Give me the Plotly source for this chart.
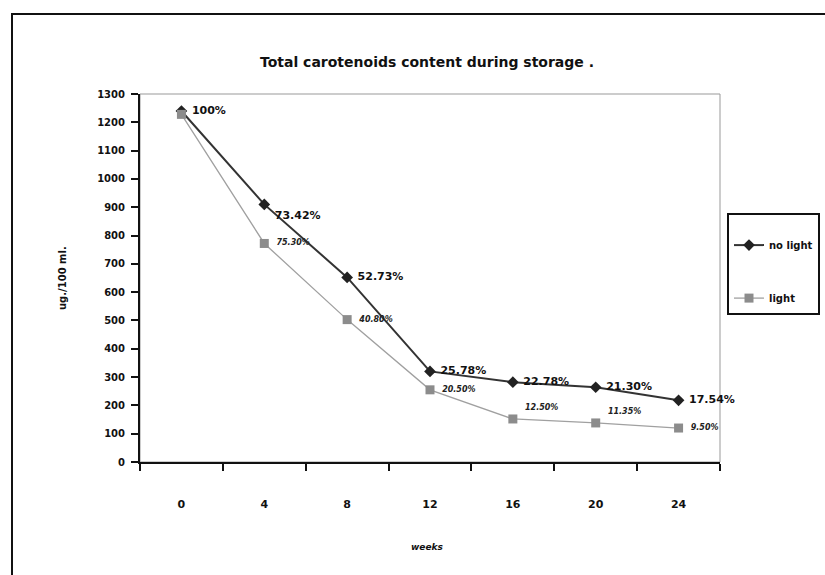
import plotly.graph_objects as go

weeks = ["0", "4", "8", "12", "16", "20", "24"]
no_light = [1240, 910, 652, 320, 282, 264, 218]
light = [1228, 772, 503, 255, 152, 138, 120]
no_light_labels = ["100%", "73.42%", "52.73%", "25.78%", "22.78%", "21.30%", "17.54%"]
light_labels = ["", "75.30%", "40.80%", "20.50%", "12.50%", "11.35%", "9.50%"]
y_ticks = list(range(0, 1301, 100))

W, H = 825, 575
L, R, T, B = 140, 720, 94, 462

def px(x):
    return (x - L) / (R - L)

def py(y):
    return (B - y) / (B - T)

fig = go.Figure()

fig.add_trace(go.Scatter(
    x=weeks, y=no_light, name="no light", legendgroup="a",
    mode="lines+markers+text",
    text=[" " + t for t in no_light_labels],
    textposition=["middle right", "bottom right", "middle right", "middle right",
                  "middle right", "middle right", "middle right"],
    textfont=dict(family="DejaVu Sans", size=11, color="#111", weight="bold"),
    line=dict(color="#333333", width=2),
    marker=dict(symbol="diamond", size=9, color="#222222"),
    cliponaxis=False,
))

fig.add_trace(go.Scatter(
    x=weeks, y=light, name="light", legendgroup="b",
    mode="lines+markers+text",
    text=["  " + t for t in light_labels],
    textposition=["middle right", "middle right", "middle right", "middle right",
                  "top right", "top right", "middle right"],
    textfont=dict(family="DejaVu Sans", size=8, color="#222", weight="bold", style="italic"),
    line=dict(color="#a0a0a0", width=1.3),
    marker=dict(symbol="square", size=9, color="#8c8c8c"),
    cliponaxis=False,
))

fig.update_layout(
    width=W, height=H,
    margin=dict(l=L, r=W - R, t=T, b=H - B, autoexpand=False),
    paper_bgcolor="white", plot_bgcolor="white",
    font=dict(family="DejaVu Sans", color="#111"),
    title=dict(text="Total carotenoids content during storage .",
               x=427 / W, xref="container", xanchor="center",
               y=1 - 62 / H, yref="container", yanchor="middle",
               font=dict(family="DejaVu Sans", size=14, weight="bold", color="#111")),
    showlegend=True,
    legend=dict(
        x=px(727), y=py(213), xanchor="left", yanchor="top",
        bordercolor="#111", borderwidth=2, bgcolor="white",
        traceorder="grouped", tracegroupgap=34,
        title=dict(text=" ", font=dict(size=12)),
        font=dict(family="DejaVu Sans", size=10, weight="bold", color="#111"),
        itemwidth=30, entrywidth=90,
    ),
    xaxis=dict(
        type="category", range=[-0.5, 6.5],
        showline=True, linecolor="#111", linewidth=2,
        ticks="outside", ticklen=7, tickwidth=2, tickcolor="#111",
        tickson="boundaries", showgrid=False, zeroline=False,
        tickfont=dict(family="DejaVu Sans", size=11, weight="bold", color="#111"),
        ticklabelstandoff=31,
    ),
    yaxis=dict(
        range=[0, 1300], tickvals=y_ticks,
        showline=True, linecolor="#111", linewidth=2,
        ticks="outside", ticklen=7, tickwidth=2, tickcolor="#111",
        showgrid=False, zeroline=False,
        tickfont=dict(family="DejaVu Sans", size=10, weight="bold", color="#111"),
        ticklabelstandoff=4,
    ),
    shapes=[
        dict(type="rect", xref="paper", yref="paper", x0=0, x1=1, y0=0, y1=1,
             line=dict(color="#999", width=1), layer="below"),
        dict(type="rect", xref="paper", yref="paper",
             x0=px(12), x1=px(900), y0=py(14), y1=py(700),
             line=dict(color="#111", width=2), layer="below"),
    ],
    annotations=[
        dict(text="ug./100 ml.", xref="paper", yref="paper", x=px(62), y=py(278),
             showarrow=False, textangle=-90, xanchor="center", yanchor="middle",
             font=dict(family="DejaVu Sans", size=10, weight="bold", color="#111")),
        dict(text="weeks", xref="paper", yref="paper", x=px(427), y=py(547),
             showarrow=False, xanchor="center", yanchor="middle",
             font=dict(family="DejaVu Sans", size=9, weight="bold", style="italic", color="#111")),
    ],
)

fig.write_html("out.html")
